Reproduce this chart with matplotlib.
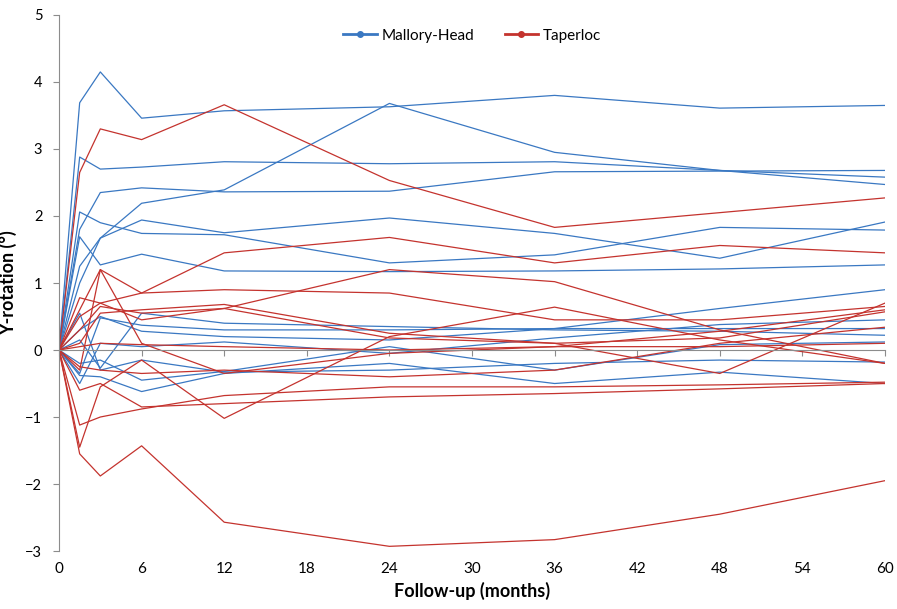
import matplotlib
matplotlib.use('Agg')
import matplotlib.pyplot as plt
from matplotlib.lines import Line2D

# follow-up time points (months)
months = [0, 1.5, 3, 6, 12, 24, 36, 48, 60]

# Mallory-Head patients, Y-rotation (deg)
mallory_head = [
    [0, 3.69, 4.15, 3.46, 3.57, 3.63, 3.80, 3.61, 3.65],
    [0, 1.00, 1.67, 2.19, 2.39, 3.68, 2.95, 2.68, 2.47],
    [0, 2.88, 2.70, 2.73, 2.81, 2.78, 2.81, 2.68, 2.58],
    [0, 1.80, 2.35, 2.42, 2.36, 2.37, 2.66, 2.67, 2.68],
    [0, 2.06, 1.90, 1.74, 1.72, 1.30, 1.42, 1.83, 1.79],
    [0, 1.25, 1.67, 1.94, 1.75, 1.97, 1.74, 1.37, 1.91],
    [0, 1.69, 1.27, 1.43, 1.18, 1.17, 1.18, 1.21, 1.27],
    [0, 0.30, 0.50, 0.28, 0.20, 0.15, 0.32, 0.62, 0.90],
    [0, -0.35, 0.48, 0.37, 0.30, 0.30, 0.32, 0.32, 0.32],
    [0, 0.15, -0.27, 0.55, 0.40, 0.35, 0.30, 0.28, 0.22],
    [0, -0.50, 0.10, 0.05, 0.12, -0.05, 0.18, 0.38, 0.45],
    [0, 0.55, -0.30, -0.15, -0.33, -0.30, -0.20, -0.15, -0.18],
    [0, -0.38, -0.40, -0.62, -0.35, -0.20, -0.50, -0.33, -0.50],
    [0, -0.20, -0.15, -0.45, -0.32, 0.05, -0.30, 0.08, 0.12],
]

# Taperloc patients, Y-rotation (deg)
taperloc = [
    [0, 2.65, 3.30, 3.14, 3.66, 2.53, 1.83, 2.05, 2.27],
    [0, 0.60, 1.20, 0.85, 1.45, 1.68, 1.30, 1.56, 1.45],
    [0, 0.78, 0.70, 0.85, 0.90, 0.85, 0.45, 0.45, 0.65],
    [0, 0.30, 0.65, 0.55, 0.62, 1.20, 1.02, 0.30, -0.20],
    [0, 0.10, 0.55, 0.60, 0.68, 0.25, 0.10, 0.18, 0.57],
    [0, -0.30, 1.20, 0.10, -0.35, -0.05, 0.05, 0.28, 0.60],
    [0, 0.50, 0.70, 0.45, 0.62, 0.18, 0.10, -0.35, 0.70],
    [0, -1.45, -0.55, -0.15, -1.02, 0.20, 0.64, 0.15, -0.20],
    [0, -1.12, -1.00, -0.88, -0.68, -0.55, -0.55, -0.52, -0.48],
    [0, -0.60, -0.50, -0.85, -0.80, -0.70, -0.65, -0.58, -0.50],
    [0, -1.55, -1.88, -1.43, -2.57, -2.93, -2.83, -2.45, -1.95],
    [0, -0.25, -0.30, -0.35, -0.30, -0.40, -0.30, 0.10, 0.34],
    [0, 0.05, 0.10, 0.08, 0.05, 0.00, 0.05, 0.05, 0.10],
]

blue = '#3a78c2'
red = '#c4332e'

plt.rcParams['font.family'] = ['Lato', 'DejaVu Sans']

fig = plt.figure(figsize=(8.97, 6.09), dpi=100)
ax = fig.add_axes([0.0658, 0.0952, 0.9208, 0.8802])

for s in mallory_head:
    ax.plot(months, s, color=blue, linewidth=0.9)
for s in taperloc:
    ax.plot(months, s, color=red, linewidth=0.9)

ax.set_xlim(0, 60)
ax.set_ylim(-3, 5)
ax.set_yticks(range(-3, 6))
ax.set_xticks(range(0, 61, 6))

for side in ['top', 'right']:
    ax.spines[side].set_visible(False)
ax.spines['left'].set_color('#8c8c8c')
ax.spines['bottom'].set_position(('data', 0))
ax.spines['bottom'].set_color('#8c8c8c')
ax.tick_params(axis='x', direction='out', length=4, color='#8c8c8c', labelbottom=False)
ax.tick_params(axis='y', direction='out', length=4, color='#8c8c8c', labelsize=10.5, pad=8)

# tick labels of the x axis sit below the plot area
ax2 = ax.twiny()
ax2.set_xlim(ax.get_xlim())
ax2.set_xticks(range(0, 61, 6))
ax2.xaxis.set_ticks_position('bottom')
ax2.xaxis.set_label_position('bottom')
for side in ax2.spines:
    ax2.spines[side].set_visible(False)
ax2.tick_params(axis='x', length=0, labelsize=11, pad=8)
ax2.set_xlabel('Follow-up (months)', fontsize=13, fontweight='bold', labelpad=4)

ax.set_ylabel('Y-rotation (°)', fontsize=13, fontweight='bold', labelpad=6)

handles = [Line2D([], [], color=blue, lw=2, marker='o', markersize=4),
           Line2D([], [], color=red, lw=2, marker='o', markersize=4)]
ax.legend(handles, ['Mallory-Head', 'Taperloc'], loc='upper center',
          bbox_to_anchor=(0.5, 1.0), ncol=2, frameon=False, fontsize=11,
          handlelength=2.2, columnspacing=2.0, handletextpad=0.3)

fig.savefig('out.png', dpi=100)
